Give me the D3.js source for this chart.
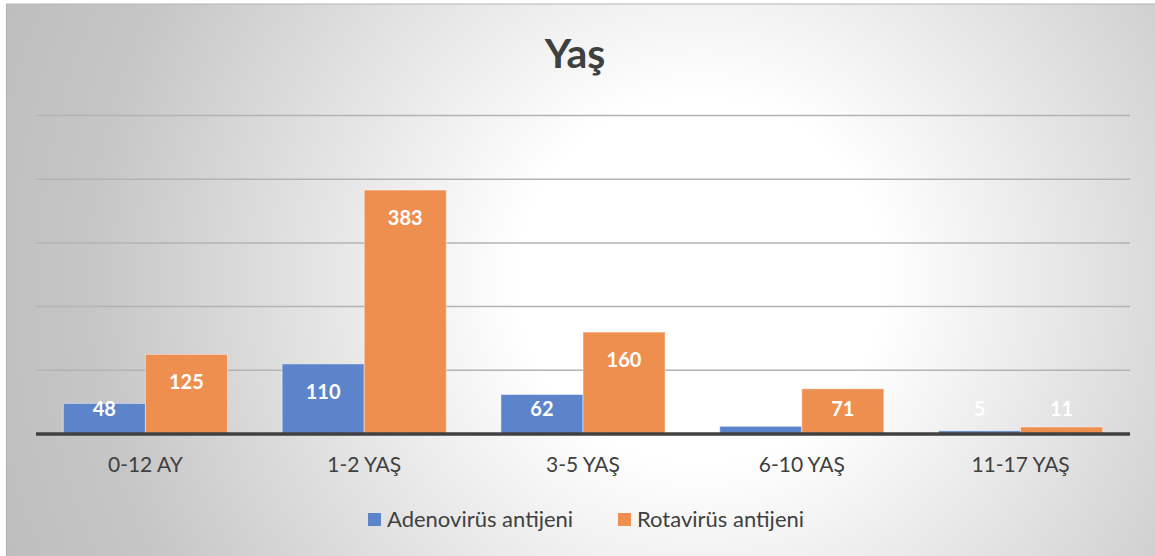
<!DOCTYPE html>
<html><head><meta charset="utf-8">
<script src="https://cdn.jsdelivr.net/npm/d3@7"></script>
<style>html,body{margin:0;padding:0;background:#fff;overflow:hidden}</style>
</head><body>
<svg id="c" width="1155" height="556"></svg>
<script>
const categories = ["0-12 AY", "1-2 YAŞ", "3-5 YAŞ", "6-10 YAŞ", "11-17 YAŞ"];
const seriesNames = ["Adenovirüs antijeni", "Rotavirüs antijeni"];
const adenovirus = [48, 110, 62, 12, 5];
const rotavirus = [125, 383, 160, 71, 11];
const yTicks = [0, 100, 200, 300, 400, 500];
const colors = ["#5B84CA", "#EE8F50"];

const svg = d3.select("#c");
const W = 1155, H = 556;
const defs = svg.append("defs");
const rg = defs.append("radialGradient").attr("id","bg")
  .attr("gradientUnits","userSpaceOnUse")
  .attr("cx",700).attr("cy",280).attr("r",760);
rg.append("stop").attr("offset","0").attr("stop-color","#ffffff");
rg.append("stop").attr("offset","0.24").attr("stop-color","#ffffff");
rg.append("stop").attr("offset","0.8").attr("stop-color","#c6c6c6");
rg.append("stop").attr("offset","1").attr("stop-color","#bdbdbd");

svg.append("rect").attr("x",6).attr("y",4).attr("width",W).attr("height",H)
  .attr("fill","url(#bg)");
svg.append("line").attr("x1",6).attr("x2",W).attr("y1",4).attr("y2",4).attr("stroke","#b5b5b5").attr("stroke-width",1.2);
svg.append("line").attr("x1",6.5).attr("x2",6.5).attr("y1",4).attr("y2",H).attr("stroke","#b5b5b5").attr("stroke-width",1.2);

const x0 = 36, x1 = 1130, yBase = 434, yTop = 115.5;
const x = d3.scaleBand().domain(categories).range([x0, x1]).paddingInner(0.25).paddingOuter(0.125);
const xs = d3.scaleBand().domain([0,1]).range([0, x.bandwidth()]);
const y = d3.scaleLinear().domain([0, 500]).range([yBase, yTop]);

// gridlines
svg.append("g").selectAll("line").data(yTicks.filter(t => t > 0)).join("line")
  .attr("x1", x0).attr("x2", x1)
  .attr("y1", d => y(d)).attr("y2", d => y(d))
  .attr("stroke", "#b3b3b3").attr("stroke-width", 1.5);

// title
svg.append("text").attr("x", 575).attr("y", 68).attr("text-anchor","middle")
  .attr("font-family","Lato, 'Open Sans', sans-serif").attr("font-weight","bold")
  .attr("font-size", 41).attr("fill","#404040").text("Yaş");

const series = [adenovirus, rotavirus];
const data = [];
categories.forEach((c, i) => series.forEach((s, j) => data.push({c, j, v: s[i]})));

svg.append("g").selectAll("rect").data(data).join("rect")
  .attr("x", d => x(d.c) + xs(d.j))
  .attr("width", xs.bandwidth())
  .attr("y", d => y(d.v))
  .attr("height", d => yBase - y(d.v))
  .attr("fill", d => colors[d.j])
  .attr("stroke", "rgba(255,255,255,0.45)").attr("stroke-width", 1);

// baseline
svg.append("line").attr("x1", x0).attr("x2", x1).attr("y1", yBase).attr("y2", yBase)
  .attr("stroke","#404040").attr("stroke-width",3.5);

// data labels
svg.append("g").selectAll("text").data(data).join("text")
  .attr("x", d => x(d.c) + xs(d.j) + xs.bandwidth()/2)
  .attr("y", d => Math.min(y(d.v) + 28, yBase - 25))
  .attr("dy", "0.35em")
  .attr("text-anchor","middle")
  .attr("font-family","Lato, 'Open Sans', sans-serif").attr("font-weight","bold")
  .attr("font-size", 20).attr("fill","#ffffff")
  .text(d => d.v);

// x axis labels
svg.append("g").selectAll("text").data(categories).join("text")
  .attr("x", d => x(d) + x.bandwidth()/2)
  .attr("y", 472)
  .attr("text-anchor","middle")
  .attr("font-family","Lato, 'Open Sans', sans-serif")
  .attr("font-size", 21).attr("fill","#404040")
  .text(d => d);

// legend
const legX = [368, 618];
const lg = svg.append("g").selectAll("g").data(seriesNames).join("g");
lg.append("rect").attr("x", (d,i) => legX[i]).attr("y", 513).attr("width", 13).attr("height", 13)
  .attr("fill", (d,i) => colors[i]);
lg.append("text").attr("x", (d,i) => legX[i] + 19).attr("y", 527)
  .attr("font-family","Lato, 'Open Sans', sans-serif")
  .attr("font-size", 22).attr("fill","#404040")
  .text(d => d);
</script>
</body></html>
